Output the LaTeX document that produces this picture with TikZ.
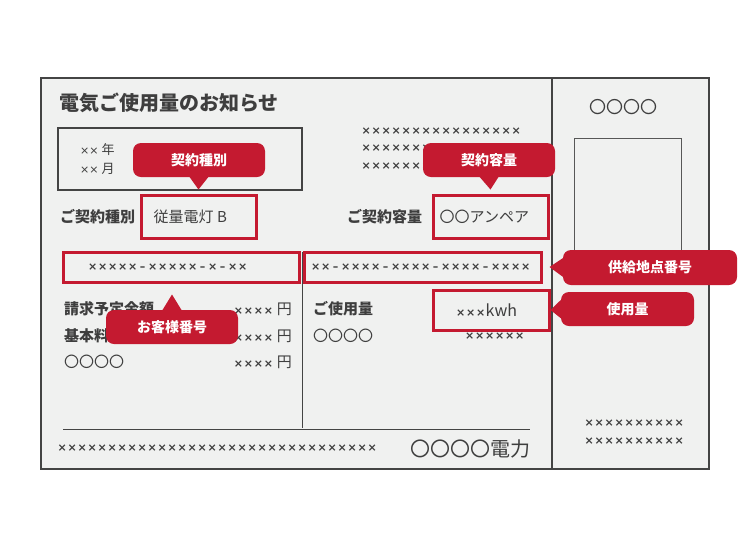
\documentclass[tikz,border=0pt]{standalone}
\usepackage{fontspec}
\setmainfont{Noto Sans CJK JP}
\newfontfamily\xfont{DejaVu Sans}
\usetikzlibrary{calc}
\definecolor{cardgray}{RGB}{240,241,240}
\definecolor{framegray}{RGB}{68,68,68}
\definecolor{inkgray}{RGB}{62,62,62}
\definecolor{notered}{RGB}{196,26,48}
\newcommand{\fs}[1]{\fontsize{#1}{#1}\selectfont}
% fixed pitch crosses and dashes
\newlength{\xstep}\setlength{\xstep}{10pt}
\newcommand{\xs}[1]{\foreach \k in {1,...,#1}{\makebox[\xstep]{×}}}
\newcommand{\xd}{\makebox[\xstep]{–}}
\tikzset{
  txt/.style={inner sep=0pt,anchor=west,text=inkgray,font=\fs{15}},
  crossfont/.style={font=\xfont\bfseries\fs{11}},
  crosses/.style={inner sep=0pt,anchor=west,text=inkgray,crossfont},
  redbox/.style={draw=notered,line width=3pt,inner sep=0pt},
  callout/.style={fill=notered,rounded corners=8pt,text=white,inner sep=0pt,
                  font=\bfseries\fs{14},minimum height=34pt},
  pointer/.style={fill=notered}
}

\begin{document}
\begin{tikzpicture}[x=1pt,y=-1pt]
  \useasboundingbox (0,0) rectangle (750,550);
  % card and frame
  \fill[cardgray] (41,78) rectangle (709,469);
  \draw[framegray,line width=2.5pt] (41,78) rectangle (709,469);
  \draw[framegray,line width=2pt] (552,78) -- (552,469);
  \draw[framegray,line width=1.2pt] (58,128) rectangle (302,190);
  \draw[framegray!90,line width=1pt] (574,138) rectangle (681,262);
  \draw[framegray,line width=1pt] (302,252) -- (302,428);
  \draw[framegray,line width=1pt] (63,429) -- (530,429);

  % texts
  \node[txt,font=\bfseries\fs{20}] (title) at (59,103) {電気ご使用量のお知らせ};
  \node[txt,font=\fs{13}] (year) at (80,150) {{\xfont\fs{11}××} 年};
  \node[txt,font=\fs{13}] (month) at (80,169) {{\xfont\fs{11}××} 月};
  \node[crosses] (addr1) at (361,131) {\xs{16}};
  \node[crosses] (addr2) at (361,148.5) {\xs{16}};
  \node[crosses] (addr3) at (361,166) {\xs{16}};
  \node[txt,font=\bfseries\fs{15}] (typelbl) at (60,217) {ご契約種別};
  \node[txt,font=\bfseries\fs{15}] (caplbl) at (347,217) {ご契約容量};
  \node[txt,font=\bfseries\fs{15}] (bill) at (64,309) {請求予定金額};
  \node[txt,font=\bfseries\fs{15}] (basic) at (64,336) {基本料金};
  \node[txt] (other) at (64,362) {〇〇〇〇};
  \foreach \yy/\nm in {309/yen1,336/yen2,362/yen3}
    \node[txt,anchor=east] (\nm) at (292,\yy) {{\xfont\bfseries\fs{11}\xs{4}} 円};
  \node[txt,font=\bfseries\fs{15}] (uselbl) at (313,309) {ご使用量};
  \node[txt] (useother) at (313,336) {〇〇〇〇};
  \node[crosses,anchor=east] (usecross) at (525,336) {\xs{6}};
  \node[crosses] (foot) at (57,448) {\xs{32}};
  \node[txt,anchor=east,font=\fs{20}] (company) at (531,449) {〇〇〇〇電力};
  \node[txt,font=\fs{17}] (sidename) at (589,107) {〇〇〇〇};
  \node[crosses] (side1) at (584,423) {\xs{10}};
  \node[crosses] (side2) at (584,441) {\xs{10}};

  % highlighted fields
  \node[redbox,minimum width=115pt,minimum height=43pt] (typebox) at (198.5,216.5) {};
  \node[txt] (typeval) at ($(typebox.west)+(14,0)$) {従量電灯 B};
  \node[redbox,minimum width=115pt,minimum height=43pt] (capbox) at (490.5,216.5) {};
  \node[txt] (capval) at ($(capbox.west)+(8,0)$) {〇〇アンペア};
  \node[redbox,minimum width=236pt,minimum height=30pt] (custbox) at (181,267) {};
  \node[crosses] (custno) at ($(custbox.west)+(26,0)$) {\xs{5}\xd\xs{5}\xd\xs{1}\xd\xs{2}};
  \node[redbox,minimum width=237pt,minimum height=30pt] (supplybox) at (422.5,267) {};
  \node[crosses] (supplyno) at ($(supplybox.west)+(8,0)$) {\xs{2}\xd\xs{4}\xd\xs{4}\xd\xs{4}\xd\xs{4}};
  \node[redbox,minimum width=116pt,minimum height=40pt] (usebox) at (491,310) {};
  \node[txt] (useval) at ($(usebox.west)+(24,0)$) {{\xfont\bfseries\fs{11}\xs{3}}{\fs{16}kwh}};

  % callouts
  \node[callout,minimum width=132pt] (typetag) at (199,160) {契約種別};
  \node[callout,minimum width=132pt] (captag) at (489,160) {契約容量};
  \node[callout,minimum width=174pt,minimum height=35pt] (supplytag) at (650,267.5) {供給地点番号};
  \node[callout,minimum width=133pt] (usetag) at (627.5,309) {使用量};
  \node[callout,minimum width=132pt] (custtag) at (172,327) {お客様番号};
  \fill[pointer] ($(typetag.south)+(-10,-1)$) -- ($(typebox.north)+(0,-4)$) -- ($(typetag.south)+(10,-1)$) -- cycle;
  \fill[pointer] ($(captag.south)+(-10,-1)$) -- ($(capbox.north)+(0,-4)$) -- ($(captag.south)+(10,-1)$) -- cycle;
  \fill[pointer] ($(supplytag.west)+(1,-10)$) -- ($(supplybox.east)+(7,0)$) -- ($(supplytag.west)+(1,10)$) -- cycle;
  \fill[pointer] ($(usetag.west)+(1,-10)$) -- (usebox.east) -- ($(usetag.west)+(1,10)$) -- cycle;
  \fill[pointer] ($(custtag.north)+(-10,1)$) -- ($(custtag.north |- custbox.south)+(0,11)$) -- ($(custtag.north)+(10,1)$) -- cycle;
\end{tikzpicture}
\end{document}
